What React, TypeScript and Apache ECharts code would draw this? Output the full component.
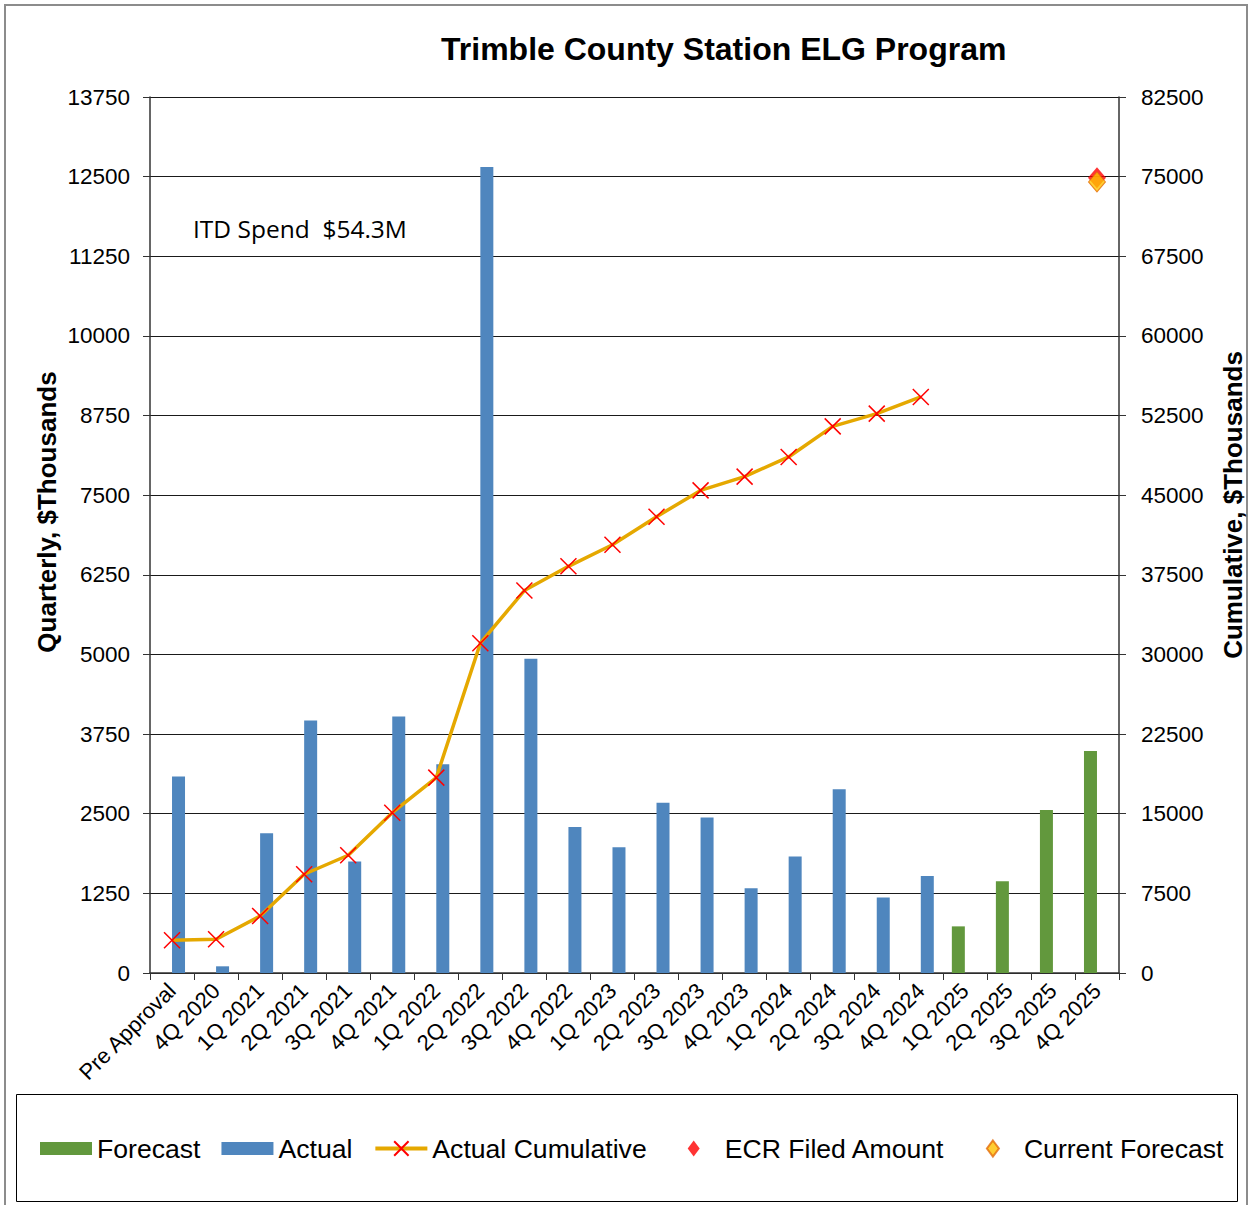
import React, { useEffect, useRef } from "react";
import * as echarts from "echarts";

const categories = [
  "Pre Approval", "4Q 2020", "1Q 2021", "2Q 2021", "3Q 2021", "4Q 2021",
  "1Q 2022", "2Q 2022", "3Q 2022", "4Q 2022", "1Q 2023", "2Q 2023",
  "3Q 2023", "4Q 2023", "1Q 2024", "2Q 2024", "3Q 2024", "4Q 2024",
  "1Q 2025", "2Q 2025", "3Q 2025", "4Q 2025",
];
// Quarterly actual spend ($Thousands), Pre Approval .. 4Q 2024
const actualValues = [3085, 105, 2195, 3962, 1750, 4025, 3277, 12650, 4933, 2292, 1973, 2671, 2439, 1330, 1829, 2886, 1184, 1521];
// Quarterly forecast spend ($Thousands), 1Q 2025 .. 4Q 2025
const forecastValues = [732, 1440, 2558, 3484];
// Actual cumulative ($Thousands)
const cumulativeValues = [3080, 3180, 5370, 9300, 11090, 15100, 18400, 31060, 36020, 38300, 40330, 42970, 45450, 46750, 48600, 51480, 52680, 54250];
const ecrFiledAmount = 74900;
const currentForecast = 74500;
const leftTicks = { min: 0, max: 13750, interval: 1250 };
const rightTicks = { min: 0, max: 82500, interval: 7500 };

const FONT = "'Liberation Sans', Arial, sans-serif";
// legend icons drawn inside a 52x18 box so the legend does not stretch them
const LEGEND_DIAMOND = "path://M0,0M52,18M26,1L32,9L26,17L20,9Z";
const LEGEND_RECT = "path://M0,0M52,18M0,2.5L52,2.5L52,15.5L0,15.5Z";

export default function App() {
  const ref = useRef<HTMLDivElement>(null);
  useEffect(() => {
    if (!ref.current) return;
    const chart = echarts.init(ref.current, null, { renderer: "svg" });
    const n = categories.length;
    const actualData = categories.map((_, i) => (i < actualValues.length ? actualValues[i] : null));
    const fcStart = n - forecastValues.length;
    const forecastData = categories.map((_, i) => (i >= fcStart ? forecastValues[i - fcStart] : null));
    const cumData = categories.map((_, i) => (i < cumulativeValues.length ? cumulativeValues[i] : null));
    const lastCat = categories[n - 1];

    chart.setOption({
      animation: false,
      backgroundColor: "#fff",
      textStyle: { fontFamily: FONT },
      title: {
        text: "Trimble County Station ELG Program",
        left: 441,
        top: 33,
        padding: 0,
        textStyle: { fontFamily: FONT, fontSize: 32, fontWeight: "bold", color: "#000" },
      },
      grid: { left: 150, right: 133, top: 97, bottom: 232, containLabel: false },
      legend: {
        left: 40,
        top: 1135,
        padding: 0,
        itemWidth: 52,
        itemHeight: 18,
        itemGap: 21,
        textStyle: { fontFamily: FONT, fontSize: 26.6, color: "#000" },
        data: [
          { name: "Forecast", icon: LEGEND_RECT, itemStyle: { color: "#62983D" } },
          { name: "Actual", icon: LEGEND_RECT, itemStyle: { color: "#4F86BE" } },
          { name: "Actual Cumulative", lineStyle: { width: 4, color: "#E5A800" } },
          { name: "ECR Filed Amount", icon: LEGEND_DIAMOND },
          { name: "Current Forecast", icon: LEGEND_DIAMOND },
        ],
      },
      xAxis: {
        type: "category",
        data: categories,
        boundaryGap: true,
        axisLine: { lineStyle: { color: "#333", width: 1.5 } },
        axisTick: { show: true, length: 7, lineStyle: { color: "#333" } },
        axisLabel: {
          rotate: 45,
          interval: 0,
          margin: 14,
          fontFamily: FONT,
          fontSize: 22,
          color: "#000",
        },
      },
      yAxis: [
        {
          type: "value",
          ...leftTicks,
          position: "left",
          axisLine: { show: true, lineStyle: { color: "#333", width: 1.5 } },
          axisTick: { show: true, length: 7, lineStyle: { color: "#333" } },
          axisLabel: { margin: 20, fontFamily: FONT, fontSize: 22.5, color: "#000", formatter: (v: number) => String(v) },
          splitLine: { show: true, lineStyle: { color: "#1a1a1a", width: 1 } },
        },
        {
          type: "value",
          ...rightTicks,
          position: "right",
          axisLine: { show: true, lineStyle: { color: "#333", width: 1.5 } },
          axisTick: { show: true, length: 7, lineStyle: { color: "#333" } },
          axisLabel: { margin: 22, fontFamily: FONT, fontSize: 22.5, color: "#000", formatter: (v: number) => String(v) },
          splitLine: { show: false },
        },
      ],
      series: [
        {
          name: "Forecast",
          type: "bar",
          data: forecastData,
          barWidth: 13,
          barGap: "0%",
          itemStyle: { color: "#62983D" },
        },
        {
          name: "Actual",
          type: "bar",
          data: actualData,
          barWidth: 13,
          barGap: "0%",
          itemStyle: { color: "#4F86BE" },
        },
        {
          name: "Actual Cumulative",
          type: "line",
          yAxisIndex: 1,
          data: cumData,
          lineStyle: { color: "#E5A800", width: 3.5 },
          symbol: "path://M0,0L10,10M10,0L0,10",
          symbolSize: 16,
          itemStyle: { color: "#FF0000", borderColor: "#FF0000", borderWidth: 1.5 },
          z: 5,
        },
        {
          name: "ECR Filed Amount",
          type: "scatter",
          yAxisIndex: 1,
          data: [[lastCat, ecrFiledAmount]],
          symbol: "diamond",
          symbolSize: [18, 21],
          itemStyle: { color: "#FF0000" },
          z: 6,
        },
        {
          name: "Current Forecast",
          type: "scatter",
          yAxisIndex: 1,
          data: [[lastCat, currentForecast]],
          symbol: "diamond",
          symbolSize: [17, 20],
          itemStyle: { color: "#FFC000", borderColor: "#E36C09", borderWidth: 1 },
          z: 7,
        },
      ],
      graphic: [
        {
          type: "rect",
          shape: { x: 5, y: 5, width: 1242, height: 1260 },
          style: { fill: "none", stroke: "#8c8c8c", lineWidth: 2 },
          silent: true,
          z: -1,
        },
        {
          type: "rect",
          shape: { x: 16.5, y: 1094.5, width: 1221, height: 107 },
          style: { fill: "none", stroke: "#000", lineWidth: 1 },
          silent: true,
        },
        {
          type: "text",
          x: 47,
          y: 512,
          rotation: Math.PI / 2,
          style: {
            text: "Quarterly, $Thousands",
            font: `bold 26px ${FONT}`,
            fill: "#000",
            align: "center",
            verticalAlign: "middle",
          },
        },
        {
          type: "text",
          x: 1233,
          y: 505,
          rotation: Math.PI / 2,
          style: {
            text: "Cumulative, $Thousands",
            font: `bold 26px ${FONT}`,
            fill: "#000",
            align: "center",
            verticalAlign: "middle",
          },
        },
        {
          type: "text",
          x: 193,
          y: 228,
          style: {
            text: "ITD Spend  $54.3M",
            font: `24.5px 'Open Sans', sans-serif`,
            fill: "#000",
            align: "left",
            verticalAlign: "middle",
          },
        },
      ],
    });
    return () => chart.dispose();
  }, []);
  return (
    <div
      ref={ref}
      style={{ position: "fixed", left: 0, top: 0, width: 1252, height: 1205, background: "#fff" }}
    />
  );
}
